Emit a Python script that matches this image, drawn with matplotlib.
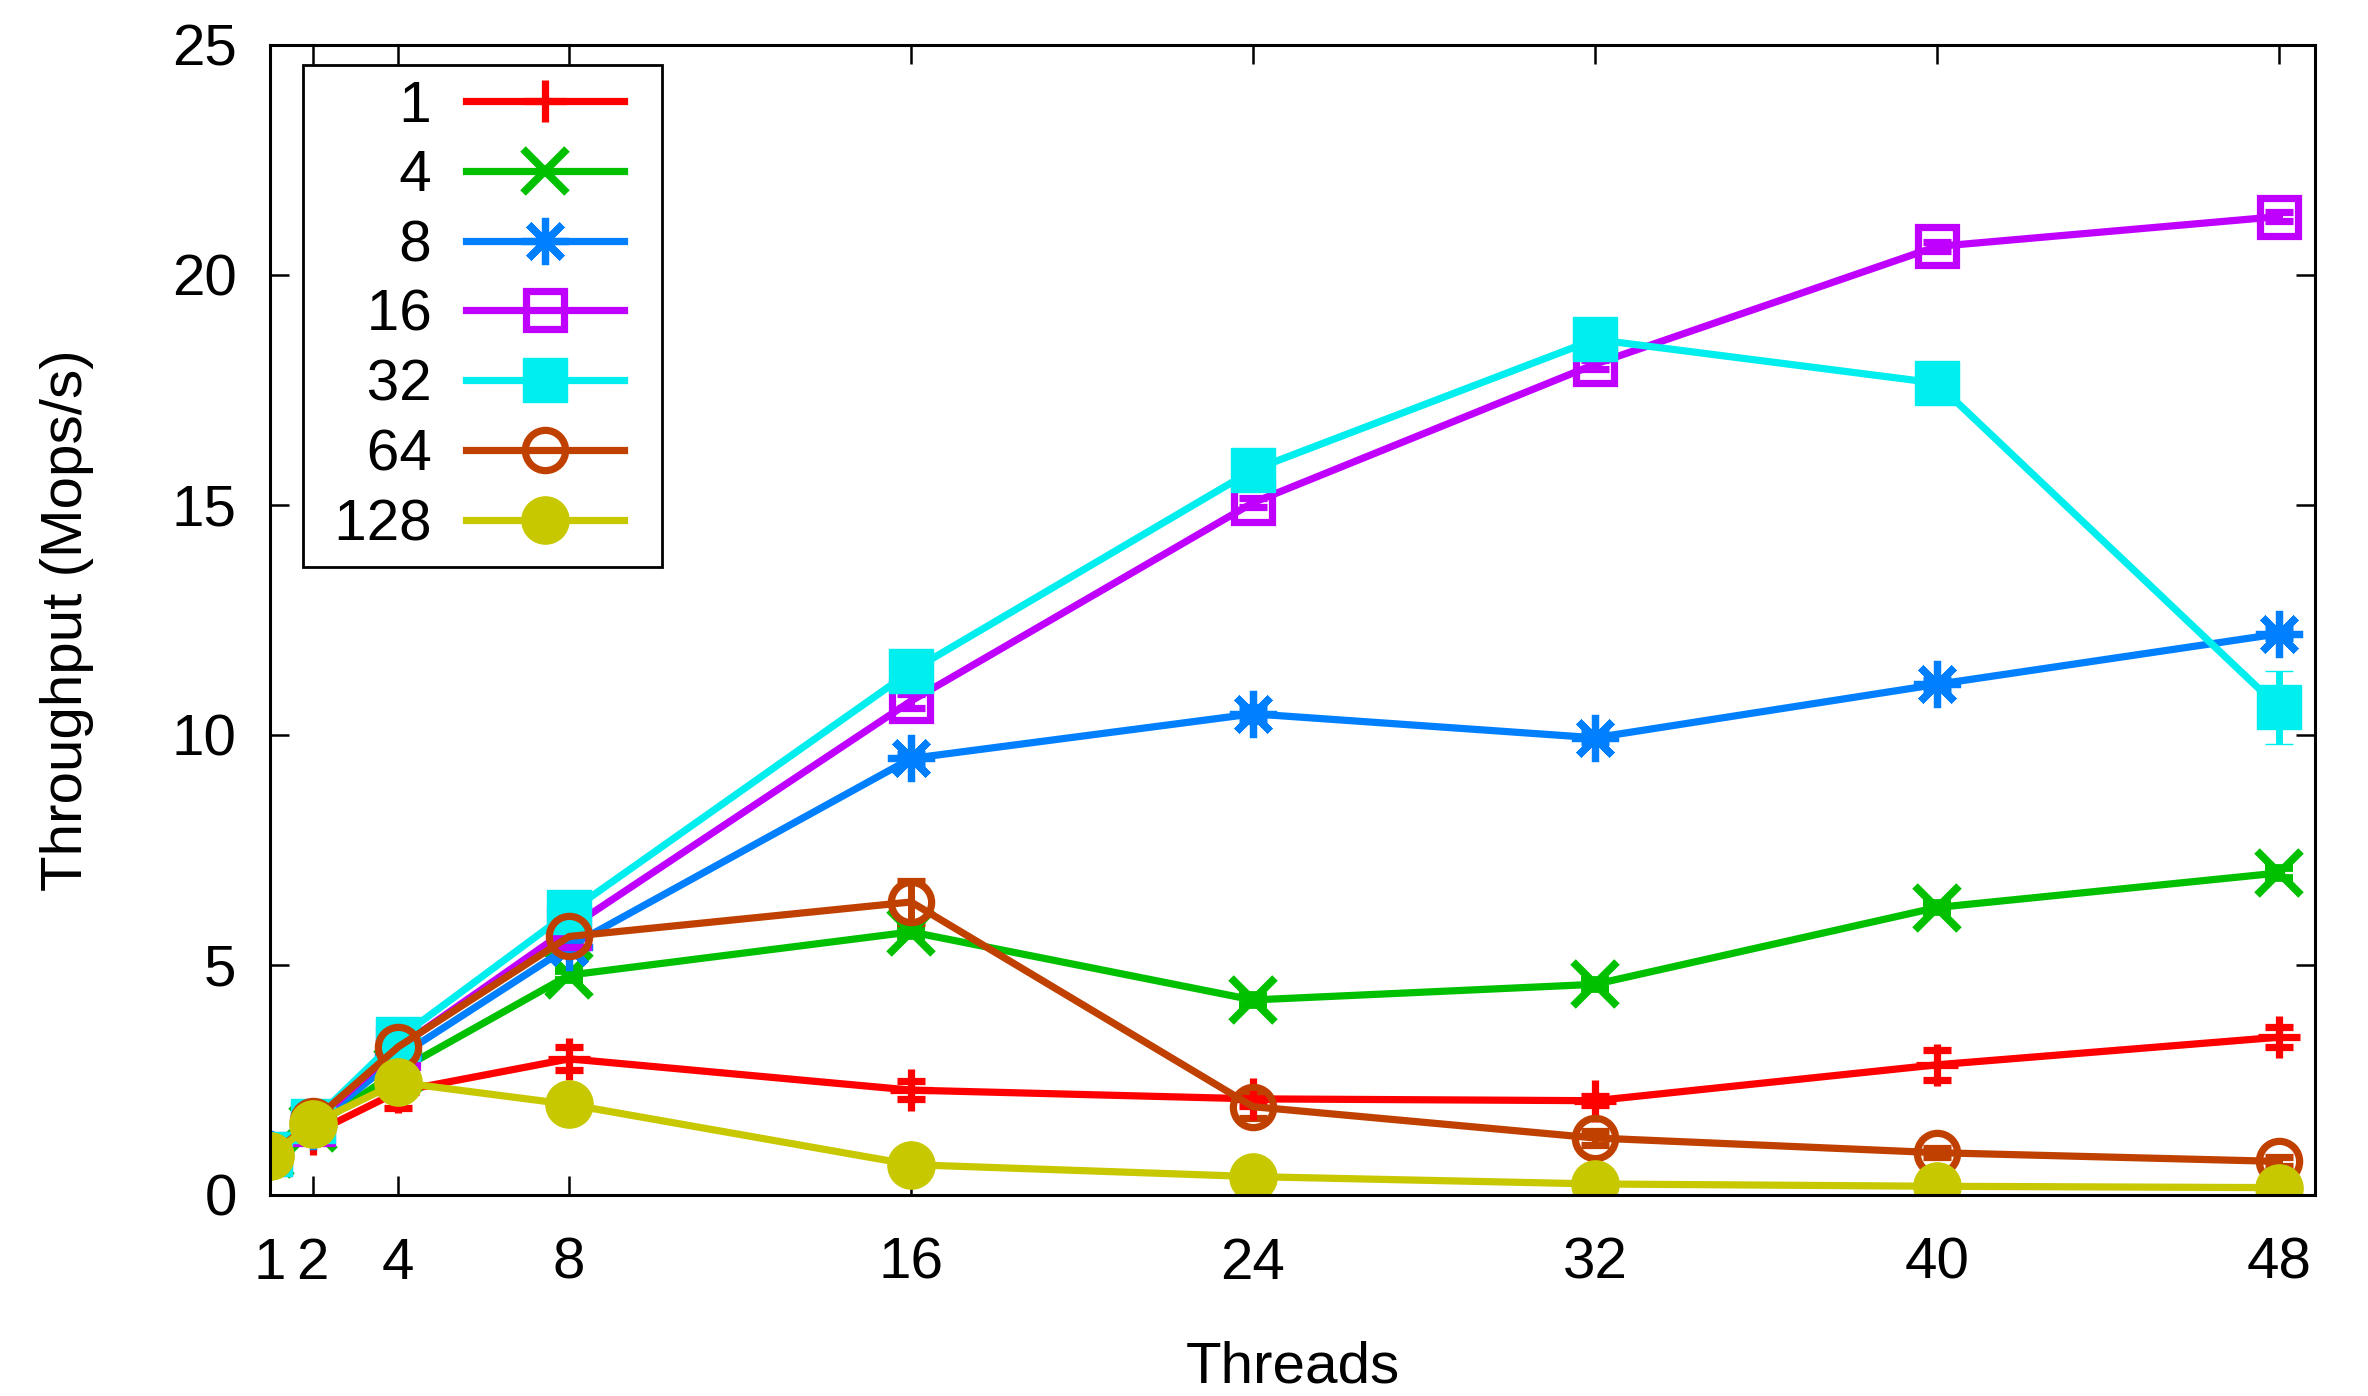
import matplotlib
matplotlib.use('Agg')
import matplotlib.pyplot as plt
from matplotlib.legend_handler import HandlerLine2D

plt.rcParams['font.family'] = ['Liberation Sans', 'DejaVu Sans']

threads = [1, 2, 4, 8, 16, 24, 32, 40, 48]
xtick_labels = ['1', '2', '4', '8', '16', '24', '32', '40', '48']
series_labels = ['1', '4', '8', '16', '32', '64', '128']

s1 = [0.9, 1.33, 2.25, 2.96, 2.28, 2.09, 2.05, 2.83, 3.43]
s4 = [0.9, 1.45, 2.7, 4.78, 5.72, 4.24, 4.58, 6.25, 7.0]
s8 = [0.9, 1.5, 3.0, 5.4, 9.49, 10.46, 9.94, 11.1, 12.2]
s16 = [0.9, 1.55, 3.2, 5.8, 10.74, 15.05, 18.06, 20.62, 21.27]
s32 = [0.9, 1.6, 3.4, 6.15, 11.39, 15.76, 18.6, 17.65, 10.6]
s64 = [0.85, 1.6, 3.22, 5.62, 6.37, 1.92, 1.24, 0.92, 0.73]
s128 = [0.85, 1.55, 2.45, 1.97, 0.66, 0.4, 0.24, 0.19, 0.16]

e1 = [0.05, 0.15, 0.35, 0.25, 0.2, 0.15, 0.1, 0.33, 0.22]
e4 = [0.05, 0.05, 0.1, 0.1, 0.1, 0.1, 0.1, 0.1, 0.1]
e8 = [0.05, 0.05, 0.1, 0.1, 0.1, 0.15, 0.1, 0.1, 0.1]
e16 = [0.05, 0.05, 0.1, 0.1, 0.15, 0.1, 0.1, 0.1, 0.1]
e32 = [0.05, 0.05, 0.1, 0.1, 0.1, 0.1, 0.1, 0.1, 0.8]
e64 = [0.05, 0.05, 0.1, 0.1, 0.45, 0.25, 0.15, 0.1, 0.1]
e128 = [0.02, 0.02, 0.05, 0.05, 0.05, 0.05, 0.02, 0.02, 0.02]

colors = ['#FF0000', '#00C000', '#0080FF', '#C000FF', '#00EEEE', '#C04000', '#C8C800']
values = [s1, s4, s8, s16, s32, s64, s128]
errors = [e1, e4, e8, e16, e32, e64, e128]

asterisk = (8, 2, 0)
styles = [
    dict(marker='+', ms=15, mew=2.6, mfc='none'),
    dict(marker='x', ms=15.5, mew=2.8, mfc='none'),
    dict(marker=asterisk, ms=17, mew=2.6, mfc='none'),
    dict(marker='s', ms=14, mew=2.6, mfc='none'),
    dict(marker='s', ms=16, mew=0.5, filled=True),
    dict(marker='o', ms=14.5, mew=2.6, mfc='none'),
    dict(marker='o', ms=17, mew=0.5, filled=True),
]


class RightPadHandler(HandlerLine2D):
    def __init__(self, rpad, **kw):
        super().__init__(**kw)
        self.rpad = rpad

    def adjust_drawing_area(self, legend, orig_handle, xdescent, ydescent,
                            width, height, fontsize):
        xd, yd, w, h = super().adjust_drawing_area(
            legend, orig_handle, xdescent, ydescent, width, height, fontsize)
        return xd, yd, w - self.rpad * fontsize, h


fig = plt.figure(figsize=(11.84, 6.98), dpi=200)
ax = fig.add_axes([270 / 2368, 1 - 1195 / 1396, (2315 - 270) / 2368, (1195 - 45) / 1396])

handles = []
for vals, errs, col, st, lab in zip(values, errors, colors, styles, series_labels):
    st = dict(st)
    filled = st.pop('filled', False)
    if filled:
        st['mfc'] = col
    c = ax.errorbar(threads, vals, yerr=errs, color=col, lw=2.6, capsize=5,
                    capthick=2.5, elinewidth=2.5, mec=col, label=lab, **st)
    handles.append(c[0])

ax.set_xlim(1, 48.85)
ax.set_ylim(0, 25)
ax.set_xticks(threads)
ax.set_xticklabels(xtick_labels)
ax.set_yticks([0, 5, 10, 15, 20, 25])
ax.tick_params(axis='both', direction='in', length=7, width=0.9, labelsize=21,
               top=True, right=True)
ax.tick_params(axis='x', pad=15)
ax.tick_params(axis='y', pad=12)
for sp in ax.spines.values():
    sp.set_linewidth(1.1)

ax.set_xlabel('Threads', fontsize=21, labelpad=18)
ax.set_ylabel('Throughput (Mops/s)', fontsize=21, labelpad=28)

fs = '\u2007'
leg_labels = ['\u2008' + fs * (3 - len(l)) + l for l in series_labels]
hmap = {h: RightPadHandler(0.41) for h in handles}
leg = ax.legend(handles, leg_labels, loc='upper left', handler_map=hmap,
                bbox_to_anchor=((303 - 270) / 2045, 1 - (65 - 45) / 1150),
                borderaxespad=0, markerfirst=False, fontsize=21,
                handlelength=3.11, handletextpad=0.6, labelspacing=0.27,
                borderpad=0.25, fancybox=False, framealpha=1, edgecolor='black')
leg.get_frame().set_linewidth(1.0)

fig.savefig('out.png', dpi=200)
